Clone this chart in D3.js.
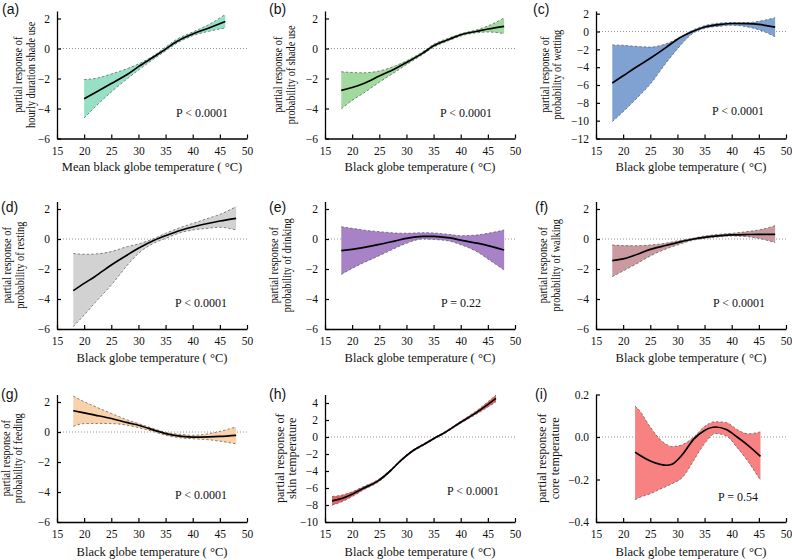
<!DOCTYPE html>
<html><head><meta charset="utf-8">
<script src="https://cdn.jsdelivr.net/npm/d3@7"></script>
<style>
body{margin:0;background:#fff;}
svg{display:block;}
text{font-family:"Liberation Serif","Times New Roman",serif;fill:#111;}
.plabel{font-family:"Liberation Sans",Arial,sans-serif;}
</style></head>
<body>
<svg id="chart" width="792" height="560"></svg>
<script>
// ---------------- data ----------------
const xTicks = [15,20,25,30,35,40,45,50];
const yTicksStd = [-6,-4,-2,0,2];
const yTicksC = [-12,-10,-8,-6,-4,-2,0,2];
const yTicksH = [-10,-8,-6,-4,-2,0,2,4];
const yTicksI = [-0.4,-0.2,0.0,0.2];

const aX   = [20,22,25,28,30,33,35,37,40,43,46];
const aFit = [-3.35,-2.95,-2.34,-1.72,-1.21,-0.52,-0.04,0.45,0.97,1.37,1.8];
const aHi  = [-2.07,-2.0,-1.7,-1.33,-1.03,-0.43,0.09,0.6,1.1,1.6,2.27];
const aLo  = [-4.63,-3.9,-2.9,-2.0,-1.44,-0.65,-0.16,0.33,0.85,1.15,1.37];

const bX   = [18,20,22,25,28,30,33,35,38,40,43,45,48];
const bFit = [-2.79,-2.6,-2.35,-1.84,-1.33,-0.94,-0.31,0.18,0.63,0.92,1.15,1.3,1.48];
const bHi  = [-1.55,-1.6,-1.62,-1.5,-1.15,-0.82,-0.22,0.28,0.72,0.98,1.25,1.5,2.04];
const bLo  = [-4.02,-3.46,-3.0,-2.25,-1.55,-1.08,-0.4,0.08,0.55,0.83,1.05,1.1,0.99];

const cX   = [18,20,22,25,28,30,33,35,38,40,43,45,48];
const cFit = [-5.77,-4.97,-4.15,-3.0,-1.75,-0.87,0.05,0.5,0.8,0.9,0.88,0.8,0.5];
const cHi  = [-1.5,-1.55,-1.65,-1.75,-1.35,-0.8,0.2,0.65,0.95,1.0,1.0,1.15,1.55];
const cLo  = [-10.1,-9.0,-7.8,-5.9,-3.45,-1.95,-0.15,0.35,0.6,0.7,0.5,0.2,-0.6];

const dX   = [18,20,22,25,28,30,33,35,38,40,43,45,48];
const dFit = [-3.44,-2.96,-2.5,-1.73,-1.05,-0.62,-0.07,0.22,0.6,0.8,1.05,1.2,1.38];
const dHi  = [-0.96,-1.02,-1.0,-0.84,-0.5,-0.33,0.05,0.38,0.8,1.04,1.4,1.64,2.16];
const dLo  = [-5.84,-5.07,-4.25,-3.07,-1.73,-0.96,-0.25,0.04,0.45,0.6,0.72,0.78,0.6];

const eX   = [18,20,22,25,28,30,33,35,38,40,43,45,48];
const eFit = [-0.78,-0.69,-0.57,-0.36,-0.12,0.04,0.18,0.18,0.07,-0.07,-0.28,-0.44,-0.73];
const eHi  = [0.82,0.71,0.6,0.49,0.4,0.38,0.42,0.4,0.3,0.22,0.27,0.38,0.6];
const eLo  = [-2.36,-1.96,-1.6,-1.11,-0.6,-0.29,0.0,-0.03,-0.15,-0.38,-0.85,-1.33,-2.07];

const fX   = [18,20,22,25,28,30,33,35,38,40,43,45,48];
const fFit = [-1.44,-1.33,-1.1,-0.69,-0.42,-0.24,0.0,0.11,0.22,0.27,0.3,0.31,0.31];
const fHi  = [-0.4,-0.44,-0.45,-0.4,-0.27,-0.13,0.06,0.2,0.32,0.38,0.5,0.6,0.89];
const fLo  = [-2.51,-2.13,-1.75,-1.13,-0.65,-0.4,-0.07,0.04,0.15,0.2,0.15,0.04,-0.24];

const gX   = [18,20,22,25,28,30,33,35,38,40,43,45,48];
const gFit = [1.42,1.28,1.13,0.9,0.62,0.45,0.11,-0.11,-0.29,-0.34,-0.32,-0.29,-0.22];
const gHi  = [2.4,2.02,1.7,1.24,0.8,0.56,0.2,-0.02,-0.16,-0.22,-0.11,0.04,0.34];
const gLo  = [0.38,0.56,0.57,0.56,0.45,0.29,0.0,-0.22,-0.4,-0.45,-0.52,-0.61,-0.79];

const hX   = [16.3,18,20,22,25,27,29,31,33,35,37,40,43,46.5];
const hFit = [-7.52,-7.25,-6.73,-6.06,-5.07,-4.0,-2.75,-1.7,-0.95,-0.2,0.5,1.74,2.93,4.55];
const hHi  = [-7.0,-6.85,-6.45,-5.86,-4.92,-3.88,-2.65,-1.6,-0.85,-0.1,0.6,1.86,3.13,4.95];
const hLo  = [-8.02,-7.65,-7.01,-6.26,-5.22,-4.12,-2.85,-1.8,-1.05,-0.3,0.4,1.62,2.73,4.15];

const iX   = [22.2,23,25,27,28,29,31,33,35,37,39,41,43,45.3];
const iFit = [-0.071,-0.085,-0.113,-0.13,-0.133,-0.128,-0.08,-0.01,0.031,0.047,0.035,0.0,-0.039,-0.091];
const iHi  = [0.146,0.125,0.047,-0.016,-0.035,-0.045,-0.035,0.0,0.05,0.072,0.068,0.035,0.015,0.024];
const iLo  = [-0.295,-0.285,-0.267,-0.243,-0.232,-0.22,-0.188,-0.11,-0.031,0.016,0.005,-0.05,-0.115,-0.204];

const panelLetters = ["(a)","(b)","(c)","(d)","(e)","(f)","(g)","(h)","(i)"];
const yTitles = [
  ["partial response of","hourly duration shade use"],
  ["partial response of","probability of shade use"],
  ["partial response of","probability of wetting"],
  ["partial response of","probability of resting"],
  ["partial response of","probability of drinking"],
  ["partial response of","probability of walking"],
  ["partial response of","probability of feeding"],
  ["partial response of","skin temperature"],
  ["partial response of","core temperature"]
];
const xTitles = ["Mean black globe temperature ( °C)","Black globe temperature ( °C)","Black globe temperature ( °C)",
  "Black globe temperature ( °C)","Black globe temperature ( °C)","Black globe temperature ( °C)",
  "Black globe temperature ( °C)","Black globe temperature ( °C)","Black globe temperature ( °C)"];
const pTexts = ["P < 0.0001","P < 0.0001","P < 0.0001","P < 0.0001","P = 0.22","P < 0.0001","P < 0.0001","P < 0.0001","P = 0.54"];

// ---------------- layout / styles ----------------
const fills = ["#97e0c6","#a2d99e","#7fa2d3","#d2d2d2","#a882c6","#c99ba0","#f9d1aa","#e06464","#f88282"];
const colLeft = [57,325,596];
const rowBottom = [138.5,329,522];
const plotW = 190, plotH = 127.5;
const yTop = [2.5,2.5,2.3,2.5,2.5,2.5,2.5,5,0.2];
const yBottom = [-6,-6,-12,-6,-6,-6,-6,-10,-0.4];
const yTickSets = [yTicksStd,yTicksStd,yTicksC,yTicksStd,yTicksStd,yTicksStd,yTicksStd,yTicksH,yTicksI];
const yTitleX = [[18,31],[278,291],[545,557],[7,20],[274,287],[543,556],[6,18],[279,291],[541,554]];
const yTitleSize = [12,12,12,12,12,12,12,13.5,13.5];
const yTitleSquash = [0.86,0.86,0.86,0.86,0.86,0.86,0.86,0.9,0.9];
const letterPos = [[2,13.5],[269,13.5],[533,13.5],[1,212],[269,212],[535,212],[1,399],[269,399],[535,399]];
const xTitleBase = [171,361.5,555.5];
const pPos = [[176,117],[440,117],[712,115],[175,307],[441,307],[713,307],[175,499],[447,495],[718,501]];

const series = [
  [aX,aFit,aLo,aHi],[bX,bFit,bLo,bHi],[cX,cFit,cLo,cHi],
  [dX,dFit,dLo,dHi],[eX,eFit,eLo,eHi],[fX,fFit,fLo,fHi],
  [gX,gFit,gLo,gHi],[hX,hFit,hLo,hHi],[iX,iFit,iLo,iHi]
];

const svg = d3.select("#chart");

series.forEach((s, k) => {
  const col = k % 3, row = Math.floor(k / 3);
  const left = colLeft[col], bottom = rowBottom[row], top = bottom - plotH;
  const x = d3.scaleLinear().domain([15,50]).range([left, left + plotW]);
  const y = d3.scaleLinear().domain([yBottom[k], yTop[k]]).range([bottom, top]);
  const pts = s[0].map((xv,i) => ({x:xv, fit:s[1][i], lo:s[2][i], hi:s[3][i]}));
  const g = svg.append("g");

  // zero reference line
  g.append("line")
    .attr("x1", x(15)).attr("x2", x(50)).attr("y1", y(0)).attr("y2", y(0))
    .attr("stroke","#8a8a8a").attr("stroke-width",0.9).attr("stroke-dasharray","1,2");

  // confidence band
  const curve = d3.curveMonotoneX;
  g.append("path").datum(pts)
    .attr("d", d3.area().x(d=>x(d.x)).y0(d=>y(d.lo)).y1(d=>y(d.hi)).curve(curve))
    .attr("fill", fills[k]).attr("stroke","none");
  ["lo","hi"].forEach(key => {
    g.append("path").datum(pts)
      .attr("d", d3.line().x(d=>x(d.x)).y(d=>y(d[key])).curve(curve))
      .attr("fill","none").attr("stroke","#555").attr("stroke-width",0.7)
      .attr("stroke-dasharray","2.5,2");
  });
  // fitted line
  g.append("path").datum(pts)
    .attr("d", d3.line().x(d=>x(d.x)).y(d=>y(d.fit)).curve(curve))
    .attr("fill","none").attr("stroke","#000").attr("stroke-width",1.7);

  // axes
  const xa = g.append("g").attr("transform",`translate(0,${bottom})`)
    .call(d3.axisBottom(x).tickValues(xTicks).tickFormat(d3.format("d")).tickSize(-4).tickSizeOuter(0).tickPadding(8));
  const fmt = k === 8 ? d3.format(".1f") : d3.format("d");
  const ya = g.append("g").attr("transform",`translate(${left},0)`)
    .call(d3.axisLeft(y).tickValues(yTickSets[k]).tickFormat(fmt).tickSize(-4).tickSizeOuter(0).tickPadding(7));
  [xa, ya].forEach(a => {
    a.select(".domain").attr("stroke","#000").attr("stroke-width",1.3);
    a.selectAll(".tick line").attr("stroke","#000").attr("stroke-width",1.2);
    a.selectAll(".tick text").attr("font-family","'Liberation Serif','Times New Roman',serif")
      .attr("font-size",11.5).attr("fill","#111");
  });

  // y title (two lines), slightly condensed like the reference face
  const cy = (top + bottom) / 2;
  yTitles[k].forEach((t,i) => {
    const tx = g.append("text")
      .attr("transform",`translate(${yTitleX[k][i]},${cy}) rotate(-90)`)
      .attr("text-anchor","middle").attr("dominant-baseline","central")
      .attr("font-size",yTitleSize[k]).text(t);
    const len = tx.node().getComputedTextLength();
    tx.attr("textLength", len * yTitleSquash[k]).attr("lengthAdjust","spacingAndGlyphs");
  });

  // x title
  g.append("text").attr("x",(x(15)+x(50))/2).attr("y",xTitleBase[row])
    .attr("text-anchor","middle").attr("font-size",12.5).text(xTitles[k]);

  // P value
  g.append("text").attr("x",pPos[k][0]).attr("y",pPos[k][1])
    .attr("font-size",12).text(pTexts[k]);

  // panel letter
  g.append("text").attr("class","plabel").attr("x",letterPos[k][0]).attr("y",letterPos[k][1])
    .attr("font-size",14).text(panelLetters[k]);
});
</script>
</body></html>
